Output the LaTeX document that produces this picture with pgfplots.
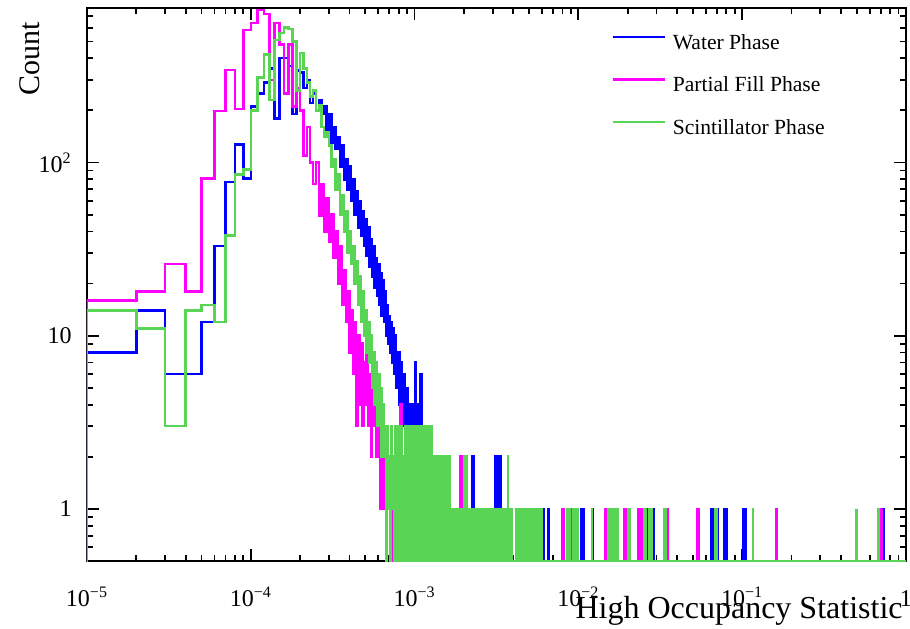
\documentclass[border=0pt]{standalone}
\usepackage{fontspec}
\setmainfont{Liberation Serif}
\usepackage{pgfplots}
\pgfplotsset{compat=1.18}
\definecolor{rblue}{RGB}{0,0,255}
\definecolor{rmag}{RGB}{255,0,255}
\definecolor{rgreen}{RGB}{89,212,84}
\begin{document}
\begin{tikzpicture}
\path[use as bounding box] (-43.5pt,-33.5pt) rectangle (411.5pt,280.5pt);
\begin{axis}[
  at={(0pt,0pt)}, anchor=south west,
  scale only axis, width=409.5pt, height=276.5pt,
  xmode=log, ymode=log,
  xmin=1e-5, xmax=1, ymin=0.5, ymax=780,
  axis line style={line width=1pt, black},
  tick style={line width=0.9pt, black},
  tick align=inside,
  major tick length=6pt, minor tick length=3pt,
  xtick={1e-5,1e-4,1e-3,1e-2,1e-1,1},
  xticklabels={10\textsuperscript{−5},10\textsuperscript{−4},10\textsuperscript{−3},10\textsuperscript{−2},10\textsuperscript{−1},1},
  minor xtick={2e-5,3e-5,4e-5,5e-5,6e-5,7e-5,8e-5,9e-5,2e-4,3e-4,4e-4,5e-4,6e-4,7e-4,8e-4,9e-4,2e-3,3e-3,4e-3,5e-3,6e-3,7e-3,8e-3,9e-3,2e-2,3e-2,4e-2,5e-2,6e-2,7e-2,8e-2,9e-2,0.2,0.3,0.4,0.5,0.6,0.7,0.8,0.9},
  ytick={1,10,100},
  yticklabels={1,10,10\textsuperscript{2}},
  minor ytick={0.6,0.7,0.8,0.9,2,3,4,5,6,7,8,9,20,30,40,50,60,70,80,90,200,300,400,500,600,700},
  xticklabel style={font=\fontsize{12}{14}\selectfont, anchor=base, yshift=-22.5pt},
  yticklabel style={font=\fontsize{12}{14}\selectfont, anchor=east, inner sep=0pt, xshift=-7.5pt},
  xlabel={High Occupancy Statistic},
  x label style={at={(rel axis cs:0.9963,-0.1031)}, anchor=base east, inner sep=0pt, font=\fontsize{16}{19}\selectfont},
  legend style={at={(rel axis cs:0.6398,1)}, anchor=north west, yshift=-13pt, draw=none, fill=none, inner sep=0pt, row sep=12.3pt, column sep=3.5pt, font=\fontsize{10.8}{13}\selectfont, nodes={inner sep=0pt}},
  legend cell align=left,
  legend image code/.code={\draw[#1, line width=1.2pt] (0pt,0.33em) -- (26pt,0.33em);},
  every axis plot/.append style={line width=1.25pt, const plot mark left},
  clip mode=individual,
]
\addplot[rblue] coordinates {
(9e-6,0.5)(1e-5,8)(2e-5,14)(3e-5,6)(4e-5,6)(5e-5,12)(6e-5,33)(7e-5,77)(8e-5,127)(9e-5,81)
(1e-4,210)(1.1e-4,250)(1.2e-4,290)(1.3e-4,350)(1.4e-4,180)(1.5e-4,400)(1.6e-4,400)(1.7e-4,360)(1.8e-4,190)(1.9e-4,340)
(2e-4,330)(2.1e-4,270)(2.2e-4,300)(2.3e-4,220)(2.4e-4,250)(2.5e-4,200)(2.6e-4,230)(2.7e-4,190)(2.8e-4,210)(2.9e-4,150)
(3e-4,190)(3.1e-4,130)(3.2e-4,160)(3.3e-4,120)(3.4e-4,140)(3.5e-4,95)(3.6e-4,125)(3.7e-4,80)(3.8e-4,105)(3.9e-4,70)
(4e-4,95)(4.1e-4,60)(4.2e-4,80)(4.3e-4,50)(4.4e-4,68)(4.5e-4,42)(4.6e-4,60)(4.7e-4,38)(4.8e-4,52)(4.9e-4,33)
(5e-4,47)(5.1e-4,29)(5.2e-4,42)(5.3e-4,25)(5.4e-4,36)(5.5e-4,22)(5.6e-4,33)(5.7e-4,19)(5.8e-4,28)(5.9e-4,17)
(6e-4,26)(6.1e-4,15)(6.2e-4,23)(6.3e-4,13)(6.4e-4,21)(6.5e-4,12)(6.6e-4,18)(6.7e-4,10)(6.8e-4,15)(6.9e-4,9)
(7e-4,13)(7.1e-4,8)(7.2e-4,12)(7.3e-4,7)(7.4e-4,11)(7.5e-4,6)(7.6e-4,10)(7.7e-4,5)(7.8e-4,8)(7.9e-4,5)
(8e-4,8)(8.1e-4,4)(8.2e-4,7)(8.3e-4,4)(8.4e-4,6)(8.5e-4,3)(8.6e-4,6)(8.7e-4,3)(8.8e-4,5)(8.9e-4,2)
(9e-4,5)(9.1e-4,2)(9.2e-4,4)(9.3e-4,2)(9.4e-4,4)(9.5e-4,2)(9.6e-4,3)(9.7e-4,4)(9.8e-4,2)(9.9e-4,3)
(1e-3,3)(1.01e-3,7)(1.02e-3,2)(1.03e-3,4)(1.04e-3,2)(1.05e-3,1)(1.06e-3,3)(1.07e-3,2)(1.08e-3,1)(1.09e-3,6)
(1.1e-3,2)(1.11e-3,1)(1.12e-3,3)(1.13e-3,1)(1.14e-3,2)(1.15e-3,0.5)(1.16e-3,2)(1.17e-3,1)(1.18e-3,1)(1.19e-3,3)
(1.2e-3,1)(1.21e-3,2)(1.22e-3,0.5)(1.23e-3,1)(1.24e-3,2)(1.25e-3,1)(1.26e-3,0.5)(1.27e-3,1)(1.28e-3,1)(1.29e-3,0.5)
(1.3e-3,2)(1.31e-3,1)(1.32e-3,0.5)(1.33e-3,1)(1.34e-3,1)(1.35e-3,0.5)(1.36e-3,1)(1.37e-3,2)(1.38e-3,0.5)(1.39e-3,1)
(1.4e-3,2)(1.41e-3,0.5)(1.42e-3,1)(1.43e-3,0.5)(1.44e-3,1)(1.45e-3,0.5)(1.46e-3,1)(1.47e-3,0.5)(1.48e-3,1)(1.49e-3,0.5)
(1.62e-3,1)(1.63e-3,0.5)(1.8e-3,1)(1.81e-3,0.5)(2e-3,1)(2.01e-3,0.5)(2.25e-3,2)(2.26e-3,0.5)(2.28e-3,2)(2.29e-3,0.5)(2.43e-3,1)(2.44e-3,0.5)(2.6e-3,1)(2.61e-3,0.5)(2.92e-3,1)(2.93e-3,0.5)
(3.1e-3,2)(3.11e-3,0.5)(3.13e-3,2)(3.14e-3,0.5)(3.16e-3,2)(3.17e-3,0.5)(3.19e-3,2)(3.2e-3,0.5)(3.22e-3,2)(3.23e-3,0.5)(3.25e-3,2)(3.26e-3,0.5)(3.28e-3,2)(3.29e-3,0.5)(3.31e-3,2)(3.32e-3,0.5)(3.34e-3,2)(3.35e-3,0.5)
(4.27e-3,1)(4.28e-3,0.5)(4.58e-3,1)(4.59e-3,0.5)(4.75e-3,1)(4.76e-3,0.5)(6.15e-3,1)(6.16e-3,0.5)(6.55e-3,1)(6.56e-3,0.5)
(1.04e-2,1)(1.041e-2,0.5)(1.08e-2,1)(1.081e-2,0.5)(1.23e-2,1)(1.231e-2,0.5)(1.51e-2,1)(1.511e-2,0.5)
(2.6e-2,1)(2.601e-2,0.5)(2.9e-2,1)(2.901e-2,0.5)(6.5e-2,1)(6.501e-2,0.5)(6.7e-2,1)(6.701e-2,0.5)(7.13e-2,1)(7.131e-2,0.5)(7.8e-2,1)(7.801e-2,0.5)(8.05e-2,1)(8.051e-2,0.5)
(0.1015,1)(0.10151,0.5)(0.103,1)(0.10301,0.5)(0.105,1)(0.10501,0.5)(0.72,1)(0.72001,0.5)(0.735,1)(0.73501,0.5)(1,0.5)
};
\addplot[rmag] coordinates {
(9e-6,0.5)(1e-5,16)(2e-5,18)(3e-5,26)(4e-5,18)(5e-5,81)(6e-5,199)(7e-5,342)(8e-5,204)(9e-5,581)
(1e-4,640)(1.1e-4,760)(1.2e-4,720)(1.3e-4,300)(1.4e-4,640)(1.5e-4,480)(1.6e-4,250)(1.7e-4,480)(1.8e-4,210)(1.9e-4,270)
(2e-4,200)(2.1e-4,110)(2.2e-4,160)(2.3e-4,100)(2.4e-4,75)(2.5e-4,100)(2.6e-4,49)(2.7e-4,75)(2.8e-4,40)(2.9e-4,62)
(3e-4,35)(3.1e-4,50)(3.2e-4,28)(3.3e-4,40)(3.4e-4,20)(3.5e-4,33)(3.6e-4,15)(3.7e-4,24)(3.8e-4,12)(3.9e-4,18)
(4e-4,8)(4.1e-4,14)(4.2e-4,6)(4.3e-4,12)(4.4e-4,3)(4.5e-4,10)(4.6e-4,4)(4.7e-4,9)(4.8e-4,3)(4.9e-4,7)
(5e-4,4)(5.1e-4,8)(5.2e-4,3)(5.3e-4,6)(5.4e-4,2)(5.5e-4,5)(5.6e-4,3)(5.7e-4,4)(5.8e-4,2)(5.9e-4,5)
(6e-4,2)(6.1e-4,3)(6.2e-4,1)(6.3e-4,3)(6.4e-4,1)(6.5e-4,2)(6.6e-4,1)(6.7e-4,2)(6.8e-4,1)(6.9e-4,1)
(7e-4,1)(7.1e-4,0.5)(7.2e-4,1)(7.3e-4,1)(7.4e-4,0.5)(7.5e-4,1)(7.6e-4,2)(7.7e-4,0.5)(7.8e-4,1)(7.9e-4,1)
(8e-4,0.5)(8.1e-4,1)(8.2e-4,4)(8.3e-4,1)(8.4e-4,0.5)(8.5e-4,1)(8.6e-4,2)(8.7e-4,1)(8.8e-4,0.5)(8.9e-4,1)
(9e-4,1)(9.1e-4,0.5)(9.2e-4,1)(9.3e-4,3)(9.4e-4,0.5)(9.5e-4,1)(9.6e-4,1)(9.7e-4,0.5)(9.8e-4,1)(9.9e-4,2)
(1e-3,0.5)
(1.02e-3,1)(1.03e-3,0.5)(1.05e-3,1)(1.06e-3,0.5)(1.08e-3,2)(1.09e-3,0.5)(1.12e-3,1)(1.13e-3,0.5)(1.17e-3,1)(1.18e-3,0.5)(1.21e-3,1)(1.22e-3,0.5)(1.26e-3,1)(1.27e-3,0.5)(1.31e-3,2)(1.32e-3,0.5)(1.34e-3,2)(1.35e-3,0.5)(1.39e-3,1)(1.4e-3,0.5)(1.45e-3,1)(1.46e-3,0.5)(1.52e-3,1)(1.53e-3,0.5)(1.6e-3,1)(1.61e-3,0.5)(1.7e-3,1)(1.71e-3,0.5)(1.91e-3,2)(1.92e-3,0.5)(1.94e-3,2)(1.95e-3,0.5)(2.1e-3,1)(2.11e-3,0.5)(2.45e-3,1)(2.46e-3,0.5)(2.48e-3,1)(2.49e-3,0.5)(2.51e-3,1)(2.52e-3,0.5)(3.43e-3,1)(3.44e-3,0.5)
(7.95e-3,1)(7.96e-3,0.5)(8.15e-3,1)(8.16e-3,0.5)(8.75e-3,1)(8.76e-3,0.5)(8.9e-3,1)(8.91e-3,0.5)(9.05e-3,1)(9.06e-3,0.5)(9.2e-3,1)(9.21e-3,0.5)
(1.45e-2,1)(1.451e-2,0.5)(1.49e-2,1)(1.491e-2,0.5)(1.9e-2,1)(1.901e-2,0.5)(1.95e-2,1)(1.951e-2,0.5)(2.32e-2,1)(2.321e-2,0.5)(2.38e-2,1)(2.381e-2,0.5)(2.44e-2,1)(2.441e-2,0.5)(3.35e-2,1)(3.351e-2,0.5)(3.5e-2,1)(3.501e-2,0.5)(5.3e-2,1)(5.301e-2,0.5)(5.45e-2,1)(5.451e-2,0.5)(0.162,1)(0.16201,0.5)(0.7,1)(0.70001,0.5)(0.715,1)(0.71501,0.5)(1,0.5)
};
\addplot[rgreen] coordinates {
(9e-6,0.5)(1e-5,14)(2e-5,11)(3e-5,3)(4e-5,14)(5e-5,15)(6e-5,12)(7e-5,38)(8e-5,85)(9e-5,91)
(1e-4,200)(1.1e-4,310)(1.2e-4,420)(1.3e-4,230)(1.4e-4,510)(1.5e-4,560)(1.6e-4,600)(1.7e-4,590)(1.8e-4,500)(1.9e-4,260)
(2e-4,430)(2.1e-4,350)(2.2e-4,290)(2.3e-4,240)(2.4e-4,260)(2.5e-4,200)(2.6e-4,215)(2.7e-4,160)(2.8e-4,140)(2.9e-4,150)
(3e-4,125)(3.1e-4,95)(3.2e-4,105)(3.3e-4,70)(3.4e-4,85)(3.5e-4,50)(3.6e-4,65)(3.7e-4,40)(3.8e-4,52)(3.9e-4,30)
(4e-4,40)(4.1e-4,26)(4.2e-4,33)(4.3e-4,20)(4.4e-4,27)(4.5e-4,15)(4.6e-4,22)(4.7e-4,12)(4.8e-4,18)(4.9e-4,10)
(5e-4,14)(5.1e-4,8)(5.2e-4,12)(5.3e-4,7)(5.4e-4,10)(5.5e-4,5)(5.6e-4,8)(5.7e-4,4)(5.8e-4,7)(5.9e-4,3)
(6e-4,6)(6.1e-4,3)(6.2e-4,5)(6.3e-4,2)(6.4e-4,4)(6.5e-4,2)(6.6e-4,3)(6.7e-4,0.5)(6.8e-4,3)(6.9e-4,1)
(7e-4,2)(7.1e-4,0.5)(7.2e-4,3)(7.3e-4,1)(7.4e-4,2)(7.5e-4,0.5)(7.6e-4,3)(7.7e-4,1)(7.8e-4,0.5)(7.9e-4,2)
(8e-4,3)(8.1e-4,0.5)(8.2e-4,1)(8.3e-4,3)(8.4e-4,0.5)(8.5e-4,2)(8.6e-4,1)(8.7e-4,0.5)(8.8e-4,3)(8.9e-4,2)
(9e-4,0.5)(9.1e-4,1)(9.2e-4,3)(9.3e-4,0.5)(9.4e-4,2)(9.5e-4,1)(9.6e-4,0.5)(9.7e-4,3)(9.8e-4,2)(9.9e-4,0.5)
(1e-3,3)(1.01e-3,0.5)(1.02e-3,2)(1.03e-3,1)(1.04e-3,3)(1.05e-3,0.5)(1.06e-3,2)(1.07e-3,0.5)(1.08e-3,3)(1.09e-3,1)
(1.1e-3,0.5)(1.11e-3,2)(1.12e-3,3)(1.13e-3,0.5)(1.14e-3,1)(1.15e-3,2)(1.16e-3,0.5)(1.17e-3,3)(1.18e-3,1)(1.19e-3,0.5)
(1.2e-3,2)(1.21e-3,0.5)(1.22e-3,3)(1.23e-3,1)(1.24e-3,0.5)(1.25e-3,2)(1.26e-3,3)(1.27e-3,0.5)(1.28e-3,2)(1.29e-3,0.5)
(1.3e-3,1)(1.31e-3,2)(1.32e-3,0.5)(1.33e-3,1)(1.34e-3,2)(1.35e-3,0.5)(1.36e-3,2)(1.37e-3,1)(1.38e-3,0.5)(1.39e-3,2)
(1.4e-3,0.5)(1.41e-3,1)(1.42e-3,2)(1.43e-3,0.5)(1.44e-3,2)(1.45e-3,0.5)(1.46e-3,1)(1.47e-3,2)(1.48e-3,0.5)(1.49e-3,1)
(1.5e-3,2)(1.51e-3,0.5)(1.52e-3,2)(1.53e-3,0.5)(1.54e-3,1)(1.55e-3,2)(1.56e-3,0.5)(1.57e-3,2)(1.58e-3,0.5)(1.59e-3,1)
(1.6e-3,2)(1.61e-3,0.5)(1.62e-3,1)(1.63e-3,0.5)(1.64e-3,2)(1.65e-3,0.5)(1.66e-3,1)(1.67e-3,0.5)
(1.68e-3,1)(1.69e-3,0.5)(1.71e-3,1)(1.72e-3,0.5)(1.74e-3,1)(1.75e-3,0.5)(1.77e-3,1)(1.78e-3,0.5)(1.8e-3,1)(1.81e-3,0.5)(1.83e-3,1)(1.84e-3,0.5)(1.86e-3,1)(1.87e-3,0.5)(1.89e-3,1)(1.9e-3,0.5)(1.92e-3,1)(1.93e-3,0.5)(1.95e-3,1)(1.96e-3,0.5)(1.98e-3,1)(1.99e-3,0.5)(2.01e-3,2)(2.02e-3,0.5)(2.04e-3,1)(2.05e-3,0.5)(2.07e-3,2)(2.08e-3,0.5)(2.1e-3,1)(2.11e-3,0.5)(2.13e-3,1)(2.14e-3,0.5)(2.16e-3,1)(2.17e-3,0.5)(2.19e-3,1)(2.2e-3,0.5)(2.22e-3,1)(2.23e-3,0.5)(2.25e-3,1)(2.26e-3,0.5)(2.28e-3,1)(2.29e-3,0.5)(2.31e-3,1)(2.32e-3,0.5)(2.34e-3,1)(2.35e-3,0.5)(2.37e-3,1)(2.38e-3,0.5)(2.4e-3,1)(2.41e-3,0.5)(2.43e-3,1)(2.44e-3,0.5)(2.46e-3,1)(2.47e-3,0.5)(2.49e-3,1)(2.5e-3,0.5)(2.52e-3,1)(2.53e-3,0.5)(2.55e-3,1)(2.56e-3,0.5)(2.58e-3,1)(2.59e-3,0.5)(2.61e-3,1)(2.62e-3,0.5)(2.64e-3,1)(2.65e-3,0.5)(2.67e-3,1)(2.68e-3,0.5)(2.7e-3,1)(2.71e-3,0.5)(2.73e-3,1)(2.74e-3,0.5)(2.76e-3,1)(2.77e-3,0.5)(2.79e-3,1)(2.8e-3,0.5)(2.82e-3,1)(2.83e-3,0.5)(2.85e-3,1)(2.86e-3,0.5)(2.88e-3,1)(2.89e-3,0.5)(2.91e-3,1)(2.92e-3,0.5)(2.94e-3,1)(2.95e-3,0.5)(2.97e-3,1)(2.98e-3,0.5)(3e-3,1)(3.01e-3,0.5)
(3.06e-3,1)(3.07e-3,0.5)(3.12e-3,1)(3.13e-3,0.5)(3.18e-3,1)(3.19e-3,0.5)(3.24e-3,1)(3.25e-3,0.5)(3.3e-3,1)(3.31e-3,0.5)(3.36e-3,1)(3.37e-3,0.5)(3.42e-3,1)(3.43e-3,0.5)(3.48e-3,1)(3.49e-3,0.5)(3.54e-3,1)(3.55e-3,0.5)(3.6e-3,1)(3.61e-3,0.5)(3.66e-3,1)(3.67e-3,0.5)(3.72e-3,2)(3.73e-3,0.5)(3.78e-3,1)(3.79e-3,0.5)(3.84e-3,1)(3.85e-3,0.5)(3.9e-3,1)(3.91e-3,0.5)
(4.2e-3,1)(4.21e-3,0.5)(4.26e-3,1)(4.27e-3,0.5)(4.32e-3,1)(4.33e-3,0.5)(4.38e-3,1)(4.39e-3,0.5)(4.44e-3,1)(4.45e-3,0.5)(4.5e-3,1)(4.51e-3,0.5)(4.56e-3,1)(4.57e-3,0.5)(4.62e-3,1)(4.63e-3,0.5)(4.68e-3,1)(4.69e-3,0.5)(4.74e-3,1)(4.75e-3,0.5)(4.8e-3,1)(4.81e-3,0.5)(4.86e-3,1)(4.87e-3,0.5)(4.92e-3,1)(4.93e-3,0.5)(4.98e-3,1)(4.99e-3,0.5)(5.04e-3,1)(5.05e-3,0.5)(5.1e-3,1)(5.11e-3,0.5)(5.16e-3,1)(5.17e-3,0.5)(5.22e-3,1)(5.23e-3,0.5)(5.28e-3,1)(5.29e-3,0.5)(5.34e-3,1)(5.35e-3,0.5)(5.4e-3,1)(5.41e-3,0.5)(5.46e-3,1)(5.47e-3,0.5)(5.52e-3,1)(5.53e-3,0.5)(5.58e-3,1)(5.59e-3,0.5)(5.64e-3,1)(5.65e-3,0.5)(5.7e-3,1)(5.71e-3,0.5)(5.76e-3,1)(5.77e-3,0.5)(5.82e-3,1)(5.83e-3,0.5)(5.88e-3,1)(5.89e-3,0.5)(5.94e-3,1)(5.95e-3,0.5)(6e-3,1)(6.01e-3,0.5)
(8.6e-3,1)(8.61e-3,0.5)(8.8e-3,1)(8.81e-3,0.5)(9.3e-3,1)(9.31e-3,0.5)(9.5e-3,1)(9.51e-3,0.5)(9.7e-3,1)(9.71e-3,0.5)(9.9e-3,1)(9.91e-3,0.5)(1.21e-2,1)(1.211e-2,0.5)
(1.53e-2,1)(1.531e-2,0.5)(1.56e-2,1)(1.561e-2,0.5)(1.59e-2,1)(1.591e-2,0.5)(1.62e-2,1)(1.621e-2,0.5)(1.65e-2,1)(1.651e-2,0.5)(1.68e-2,1)(1.681e-2,0.5)(1.71e-2,1)(1.711e-2,0.5)(1.74e-2,1)(1.741e-2,0.5)
(2.02e-2,1)(2.021e-2,0.5)(2.06e-2,1)(2.061e-2,0.5)(2.52e-2,1)(2.521e-2,0.5)(2.56e-2,1)(2.561e-2,0.5)(2.72e-2,1)(2.721e-2,0.5)(2.8e-2,1)(2.801e-2,0.5)(3.32e-2,1)(3.321e-2,0.5)(3.4e-2,1)(3.401e-2,0.5)(6.8e-2,1)(6.801e-2,0.5)(7e-2,1)(7.001e-2,0.5)(0.116,1)(0.11601,0.5)(0.5,1)(0.50001,0.5)(0.68,1)(0.68001,0.5)(1,0.5)
};
\legend{Water Phase, Partial Fill Phase, Scintillator Phase}
\node[rotate=90, anchor=base east, inner sep=0pt, font=\fontsize{15}{18}\selectfont] at (rel axis cs:-0.0574,0.9747) {Count};
\end{axis}
\end{tikzpicture}
\end{document}
